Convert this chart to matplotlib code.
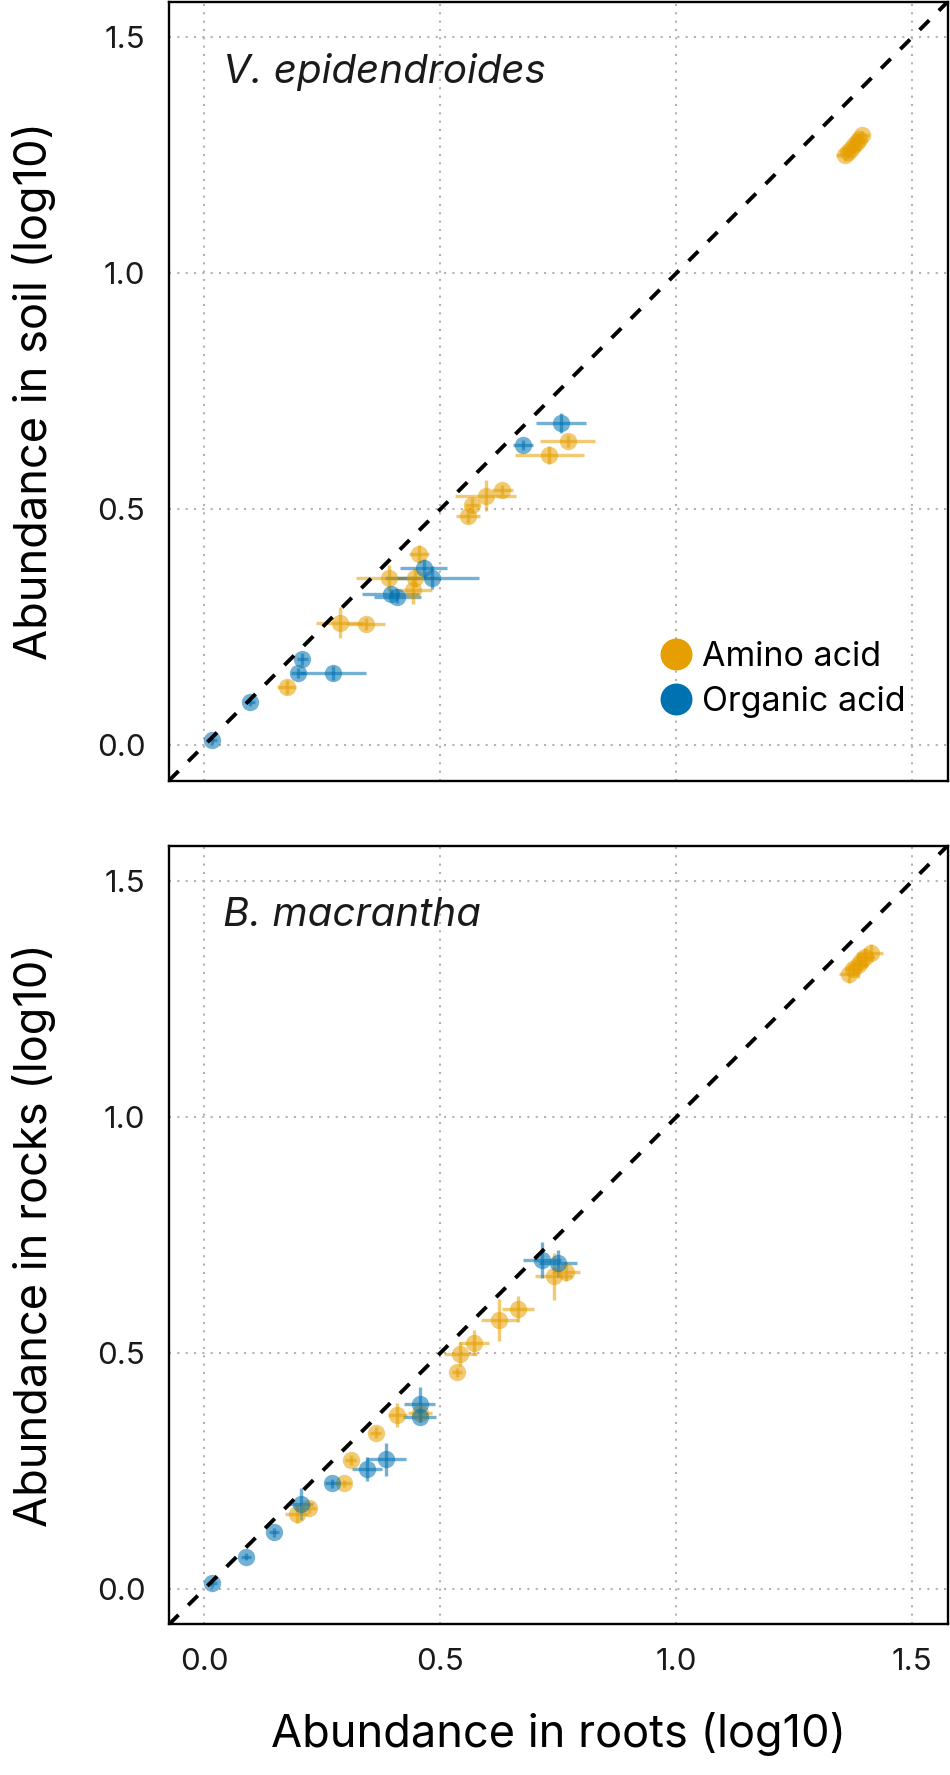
import matplotlib
matplotlib.use("Agg")
import matplotlib.pyplot as plt
from matplotlib.lines import Line2D

plt.rcParams['font.family'] = ['Inter', 'DejaVu Sans']

AMINO = '#E69F00'
ORGANIC = '#0072B2'

# V. epidendroides (roots vs soil)
ve_amino_x = [0.175, 0.287, 0.343, 0.391, 0.446, 0.443, 0.455, 0.559, 0.568, 0.596, 0.631, 0.731, 0.770,
              1.357, 1.364, 1.370, 1.376, 1.382, 1.387, 1.393]
ve_amino_y = [0.124, 0.260, 0.257, 0.354, 0.355, 0.329, 0.405, 0.486, 0.508, 0.529, 0.541, 0.615, 0.645,
              1.250, 1.257, 1.264, 1.271, 1.278, 1.285, 1.292]
ve_amino_xerr = [0.020, 0.050, 0.040, 0.069, 0.050, 0.040, 0.021, 0.026, 0.015, 0.065, 0.022, 0.073, 0.058,
                 0.018, 0.015, 0.020, 0.012, 0.016, 0.014, 0.015]
ve_amino_yerr = [0.015, 0.032, 0.012, 0.028, 0.020, 0.030, 0.019, 0.015, 0.015, 0.032, 0.010, 0.019, 0.013,
                 0.012, 0.014, 0.010, 0.015, 0.012, 0.013, 0.010]

ve_org_x = [0.016, 0.097, 0.208, 0.199, 0.273, 0.395, 0.409, 0.465, 0.482, 0.675, 0.755]
ve_org_y = [0.011, 0.092, 0.183, 0.153, 0.153, 0.321, 0.313, 0.375, 0.355, 0.636, 0.682]
ve_org_xerr = [0.010, 0.010, 0.012, 0.015, 0.070, 0.060, 0.050, 0.050, 0.100, 0.021, 0.053]
ve_org_yerr = [0.008, 0.008, 0.012, 0.010, 0.015, 0.010, 0.012, 0.020, 0.025, 0.010, 0.021]

# B. macrantha (roots vs rocks)
bm_amino_x = [0.196, 0.222, 0.295, 0.310, 0.363, 0.409, 0.457, 0.535, 0.542, 0.571, 0.625, 0.664, 0.740, 0.766,
              1.365, 1.375, 1.385, 1.392, 1.400, 1.412]
bm_amino_y = [0.159, 0.171, 0.224, 0.273, 0.331, 0.369, 0.374, 0.459, 0.498, 0.522, 0.570, 0.593, 0.663, 0.672,
              1.303, 1.313, 1.322, 1.330, 1.338, 1.348]
bm_amino_xerr = [0.024, 0.015, 0.015, 0.012, 0.012, 0.020, 0.025, 0.010, 0.035, 0.032, 0.039, 0.034, 0.040, 0.030,
                 0.020, 0.018, 0.022, 0.015, 0.020, 0.025]
bm_amino_yerr = [0.020, 0.010, 0.008, 0.010, 0.012, 0.025, 0.010, 0.010, 0.025, 0.026, 0.044, 0.028, 0.050, 0.020,
                 0.018, 0.015, 0.027, 0.015, 0.020, 0.018]

bm_org_x = [0.016, 0.088, 0.148, 0.204, 0.271, 0.344, 0.385, 0.456, 0.456, 0.716, 0.750]
bm_org_y = [0.012, 0.069, 0.120, 0.180, 0.224, 0.254, 0.275, 0.364, 0.392, 0.697, 0.690]
bm_org_xerr = [0.010, 0.010, 0.010, 0.026, 0.015, 0.032, 0.043, 0.034, 0.032, 0.040, 0.040]
bm_org_yerr = [0.008, 0.008, 0.010, 0.034, 0.010, 0.025, 0.035, 0.010, 0.037, 0.039, 0.028]

ticks = [0.0, 0.5, 1.0, 1.5]
tick_labels = ['0.0', '0.5', '1.0', '1.5']
lims = (-0.075, 1.575)


def draw_group(ax, x, y, xerr, yerr, color):
    ax.errorbar(x, y, xerr=xerr, yerr=yerr, fmt='none', ecolor=color,
                elinewidth=2.4, alpha=0.55, capsize=0, zorder=2)
    ax.scatter(x, y, s=12.5**2, color=color, alpha=0.55, linewidths=0, zorder=3)


def style_panel(ax, title, ylabel):
    ax.set_xlim(lims)
    ax.set_ylim(lims)
    ax.set_xticks(ticks)
    ax.set_yticks(ticks)
    ax.set_yticklabels(tick_labels)
    ax.grid(color='#b3b3b3', linestyle=(0, (1, 3)), linewidth=1.5, zorder=0)
    ax.set_axisbelow(True)
    ax.tick_params(length=0, pad=17, labelsize=22.5, labelcolor='#1a1a1a')
    for s in ax.spines.values():
        s.set_linewidth(1.7)
        s.set_color('black')
    ax.plot(lims, lims, color='black', linestyle=(0, (3.5, 3.5)), linewidth=2.8, zorder=5)
    ax.text(0.069, 0.91, title, transform=ax.transAxes, fontsize=29,
            style='italic', ha='left', va='center', color='#1a1a1a')
    ax.set_ylabel(ylabel, fontsize=32.5, labelpad=29)


fig = plt.figure(figsize=(9.5, 17.75), dpi=100)
ax1 = fig.add_axes([0.1778, 0.5602, 0.8198, 0.4388])
ax2 = fig.add_axes([0.1778, 0.0848, 0.8198, 0.4388])

draw_group(ax1, ve_amino_x, ve_amino_y, ve_amino_xerr, ve_amino_yerr, AMINO)
draw_group(ax1, ve_org_x, ve_org_y, ve_org_xerr, ve_org_yerr, ORGANIC)
style_panel(ax1, 'V. epidendroides', 'Abundance in soil (log10)')
ax1.set_xticklabels([])

draw_group(ax2, bm_amino_x, bm_amino_y, bm_amino_xerr, bm_amino_yerr, AMINO)
draw_group(ax2, bm_org_x, bm_org_y, bm_org_xerr, bm_org_yerr, ORGANIC)
style_panel(ax2, 'B. macrantha', 'Abundance in rocks (log10)')
ax2.set_xticklabels(tick_labels)
ax2.set_xlabel('Abundance in roots (log10)', fontsize=32.5, labelpad=26)

handles = [Line2D([], [], marker='o', linestyle='none', markersize=23, color=AMINO, markeredgewidth=0),
           Line2D([], [], marker='o', linestyle='none', markersize=23, color=ORGANIC, markeredgewidth=0)]
ax1.legend(handles, ['Amino acid', 'Organic acid'], loc='center left',
           bbox_to_anchor=(0.610, 0.130), frameon=False, fontsize=24.5,
           handletextpad=0.3, labelspacing=0.4, handlelength=0.9, borderpad=0)

fig.savefig('out.png', dpi=100)
